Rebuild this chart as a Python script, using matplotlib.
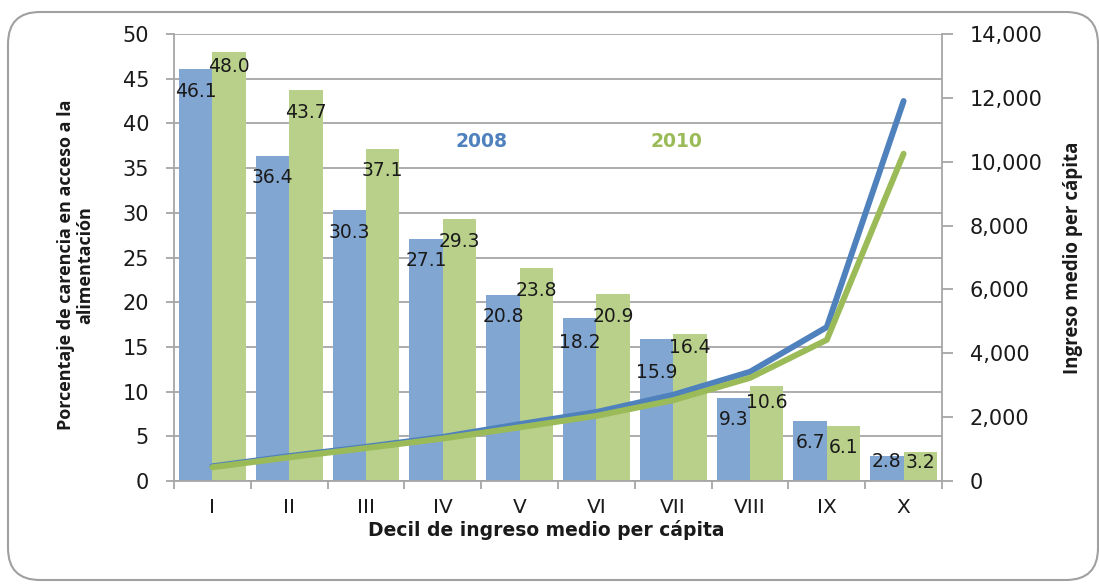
import matplotlib
matplotlib.use('Agg')
import numpy as np
import matplotlib.pyplot as plt
from matplotlib.patches import FancyBboxPatch
from matplotlib.ticker import FuncFormatter, MultipleLocator, FixedLocator

plt.rcParams['font.family'] = ['DejaVu Sans']

deciles = ['I', 'II', 'III', 'IV', 'V', 'VI', 'VII', 'VIII', 'IX', 'X']
carencia_2008 = [46.1, 36.4, 30.3, 27.1, 20.8, 18.2, 15.9, 9.3, 6.7, 2.8]
carencia_2010 = [48.0, 43.7, 37.1, 29.3, 23.8, 20.9, 16.4, 10.6, 6.1, 3.2]
ingreso_2008 = [460, 780, 1070, 1380, 1780, 2160, 2700, 3420, 4820, 11900]
ingreso_2010 = [430, 740, 1030, 1330, 1680, 2040, 2530, 3230, 4420, 10250]

# how far (pixels) each value label sits below the top of its bar
lab_off_2008 = [23, 22, 22, 22, 21, 24, 34, 22, 21, 6]
lab_off_2010 = [15, 22, 21, 22, 22, 22, 13, 16, 21, 10]

blue_bar = '#82A6D2'
green_bar = '#B9D08A'
blue_line = '#4F81BD'
green_line = '#9BBB59'
grid_c = '#A6A6A6'
txt_c = '#1a1a1a'
narrow = ['Liberation Sans Narrow', 'Open Sans', 'DejaVu Sans']

fig = plt.figure(figsize=(10.99, 5.84), dpi=100)
ax = fig.add_axes([174 / 1099, 1 - 481 / 584, 768 / 1099, 447 / 584])
px = 50 / 447  # data units per pixel on the left axis

x = np.arange(len(deciles))
w = 0.435
b1 = ax.bar(x - w / 2, carencia_2008, w, color=blue_bar, zorder=2)
b2 = ax.bar(x + w / 2, carencia_2010, w, color=green_bar, zorder=2)

for bars, vals, offs in [(b1, carencia_2008, lab_off_2008), (b2, carencia_2010, lab_off_2010)]:
    for rect, v, o in zip(bars, vals, offs):
        ax.text(rect.get_x() + rect.get_width() / 2, v - o * px, f'{v:.1f}',
                ha='center', va='center', fontsize=13.5, color=txt_c, zorder=5)

ax.set_xlim(-0.5, 9.5)
ax.set_ylim(0, 50)
ax.yaxis.set_major_locator(MultipleLocator(5))
ax.yaxis.grid(True, color=grid_c, linewidth=1.3, zorder=0)
ax.set_axisbelow(True)
ax.set_xticks(x)
ax.set_xticklabels(deciles, fontsize=14.5, color=txt_c)
ax.xaxis.set_minor_locator(FixedLocator(np.arange(-0.5, 10, 1)))
ax.tick_params(axis='x', which='major', length=0, pad=12)
ax.tick_params(axis='x', which='minor', length=6, color=grid_c, width=1.3)
ax.tick_params(axis='y', length=6, color=grid_c, width=1.3, labelsize=15,
               labelcolor=txt_c, pad=12)
for s in ['top', 'right']:
    ax.spines[s].set_visible(False)
for s in ['left', 'bottom']:
    ax.spines[s].set_color(grid_c)
    ax.spines[s].set_linewidth(1.3)

ax.set_xlabel('Decil de ingreso medio per cápita', fontsize=13.5, fontweight='bold',
              color=txt_c)
ax.xaxis.set_label_coords(0.485, -0.11)
ax.xaxis.label.set_va('center')
ax.set_ylabel('Porcentaje de carencia en acceso a la\nalimentación', fontsize=13,
              fontweight='bold', color=txt_c, linespacing=1.05, family=narrow)
ax.yaxis.set_label_coords(-0.128, 0.483)
ax.yaxis.label.set_va('center')

ax2 = ax.twinx()
ax2.plot(x, ingreso_2008, color=blue_line, linewidth=4.3, solid_capstyle='round', zorder=3)
ax2.plot(x, ingreso_2010, color=green_line, linewidth=4.3, solid_capstyle='round', zorder=4)
ax2.set_ylim(0, 14000)
ax2.yaxis.set_major_locator(MultipleLocator(2000))
ax2.yaxis.set_major_formatter(FuncFormatter(lambda v, p: f'{int(v):,}'))
ax2.tick_params(axis='y', length=8, color=grid_c, width=1.3, labelsize=15,
                labelcolor=txt_c, pad=12)
for s in ['top', 'left', 'bottom']:
    ax2.spines[s].set_visible(False)
ax2.spines['right'].set_color(grid_c)
ax2.spines['right'].set_linewidth(1.3)
ax2.set_ylabel('Ingreso medio per cápita', fontsize=13.5, fontweight='bold',
               color=txt_c, family=narrow)
ax2.yaxis.set_label_coords(1.17, 0.5)
ax2.yaxis.label.set_va('center')

ax.text(3.5, 38.0, '2008', color=blue_line, fontsize=13.5, fontweight='bold',
        ha='center', va='center', zorder=6)
ax.text(6.04, 38.0, '2010', color=green_line, fontsize=13.5, fontweight='bold',
        ha='center', va='center', zorder=6)

border = FancyBboxPatch((0.08, 0.04), 10.9, 5.68,
                        boxstyle='round,pad=0,rounding_size=0.32',
                        transform=fig.dpi_scale_trans, facecolor='none',
                        edgecolor='#A0A0A0', linewidth=1.5, clip_on=False)
fig.patches.append(border)

fig.savefig('out.png', dpi=100)
